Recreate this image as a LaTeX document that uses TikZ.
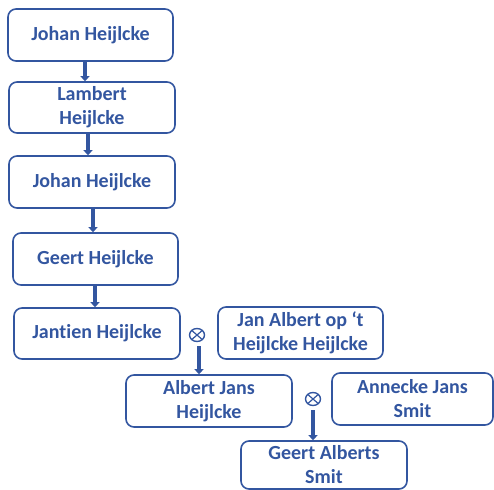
\documentclass[tikz,border=0pt]{standalone}
\usepackage{fontspec}
\setmainfont[Ligatures=NoCommon]{Carlito}
\usetikzlibrary{arrows.meta,shapes.geometric}
\definecolor{blu}{HTML}{3356A0}
\begin{document}
\begin{tikzpicture}[x=1pt,y=-1pt,
  box/.style={draw=blu,line width=1.6pt,rounded corners=8pt,text=blu,
    font=\bfseries\fontsize{20}{24}\selectfont,align=center,
    minimum height=52pt,inner sep=1pt},
  arr/.style={draw=blu,line width=3.5pt,-{Triangle[width=9pt,length=5pt]}},
  ox/.style={ellipse,draw=blu,line width=1.4pt,minimum width=15pt,minimum height=13pt,inner sep=0pt,
    path picture={\draw[blu,line width=1.2pt]
      (path picture bounding box.north west)--(path picture bounding box.south east)
      (path picture bounding box.north east)--(path picture bounding box.south west);}}]
\useasboundingbox (0,0) rectangle (494,489);
\clip (0,0) rectangle (494,489);
\node[box,minimum width=165pt] (b1) at (90.5,35) {Johan Heijlcke};
\node[box,minimum width=166pt,minimum height=51pt] (b2) at (92,107.5) {Lambert\\Heijlcke};
\node[box,minimum width=166pt] (b3) at (92,182) {Johan Heijlcke};
\node[box,minimum width=165pt] (b4) at (95.5,259) {Geert Heijlcke};
\node[box,minimum width=166pt,minimum height=51pt] (b5) at (97,333.5) {Jantien Heijlcke};
\node[box,minimum width=165pt] (jan) at (300.5,333) {Jan Albert op ‘t\\Heijlcke Heijlcke};
\node[box,minimum width=166pt] (alb) at (209,401) {Albert Jans\\Heijlcke};
\node[box,minimum width=161pt] (ann) at (412.5,399) {Annecke Jans\\Smit};
\node[box,minimum width=166pt,minimum height=48pt] (ga) at (324,465) {Geert Alberts\\Smit};
\node[ox] (o1) at (197,335) {};
\node[ox] (o2) at (313,399) {};
\coordinate (a1) at (85,0);
\coordinate (a2) at (88,0);
\coordinate (a3) at (93,0);
\coordinate (a4) at (95,0);
\coordinate (a5) at (199,0);
\coordinate (a6) at (313,0);
\draw[arr] (b1.south -| a1) -- (b2.north -| a1);
\draw[arr] (b2.south -| a2) -- (b3.north -| a2);
\draw[arr] (b3.south -| a3) -- (b4.north -| a3);
\draw[arr] (b4.south -| a4) -- (b5.north -| a4);
\draw[arr,shorten <=4pt] (o1.south -| a5) -- (alb.north -| a5);
\draw[arr,shorten <=4pt] (o2.south -| a6) -- (ga.north -| a6);
\end{tikzpicture}
\end{document}
